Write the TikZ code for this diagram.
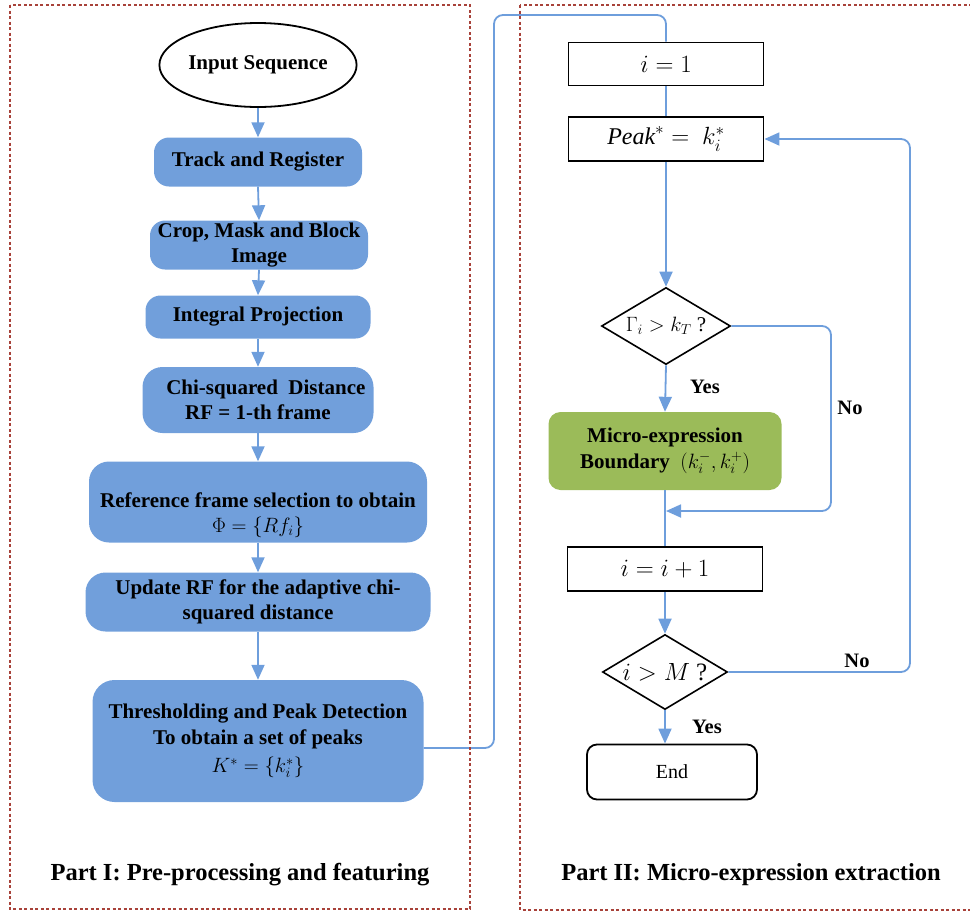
\documentclass[tikz,border=0pt]{standalone}
\usepackage{fontspec}
\setmainfont{Liberation Serif}
\usetikzlibrary{shapes.geometric,arrows.meta}
\definecolor{boxblue}{HTML}{719FDB}
\definecolor{lineblue}{HTML}{6E9EDC}
\definecolor{boxgreen}{HTML}{9BBB59}
\definecolor{dashred}{HTML}{A8423A}
\tikzset{
  bluebox/.style={rectangle, rounded corners=15pt, fill=boxblue, draw=none, inner sep=0pt,
    align=center, font=\fontsize{21}{25.5}\selectfont\bfseries},
  greenbox/.style={rectangle, rounded corners=12pt, fill=boxgreen, draw=none, inner sep=0pt,
    align=center, font=\fontsize{21}{25.5}\selectfont\bfseries},
  mathbox/.style={rectangle, draw=black, line width=1.9pt, fill=white, inner sep=0pt,
    minimum width=195pt, minimum height=43pt, font=\fontsize{26}{30}\selectfont},
  decision/.style={diamond, aspect=1.67, draw=black, line width=1.6pt, fill=white, inner sep=0pt,
    font=\fontsize{21}{25}\selectfont},
  flow/.style={draw=lineblue, line width=1.8pt},
  flowarrow/.style={flow, -{Triangle[width=13pt,length=15pt]}},
  lbl/.style={font=\fontsize{20.5}{24}\selectfont\bfseries, inner sep=0pt},
  partlbl/.style={font=\fontsize{24.5}{28}\selectfont\bfseries, inner sep=0pt},
  partframe/.style={draw=dashred, line width=1.6pt, dash pattern=on 3pt off 2.5pt},
}
\begin{document}
\begin{tikzpicture}[x=1pt,y=-1pt]
\useasboundingbox (0,0) rectangle (970,911);
% Part I nodes
\node[ellipse, draw=black, line width=1.8pt, inner sep=0pt, minimum width=184pt, minimum height=84pt,
  font=\fontsize{21}{25}\selectfont\bfseries] (inp) at (258,65) {Input Sequence};
\node[bluebox, minimum width=208pt, minimum height=49pt] (track) at (258,162) {Track and Register};
\node[bluebox, minimum width=218pt, minimum height=49pt] (crop) at (259,245) {Crop, Mask and Block\\Image};
\node[bluebox, minimum width=225pt, minimum height=43pt] (integ) at (258,317) {Integral Projection};
\node[bluebox, rounded corners=20pt, minimum width=231pt, minimum height=66pt] (chi) at (258,400) {\ \ \ Chi-squared\ \ Distance\\RF = 1-th frame};
\node[bluebox, rounded corners=20pt, minimum width=338pt, minimum height=81pt] (ref) at (258,502) {};
\node[lbl, font=\fontsize{21}{25.5}\selectfont\bfseries, align=center] (reftext) at (258,515) {Reference frame selection to obtain\\$\Phi = \{Rf_i\}$};
\node[bluebox, rounded corners=20pt, minimum width=345pt, minimum height=59pt] (upd) at (258,602) {Update RF for the adaptive chi-\\squared distance};
\node[bluebox, rounded corners=22pt, minimum width=331pt, minimum height=122pt] (thr) at (258,741) {Thresholding and Peak Detection\\To obtain a set of peaks\\[3pt]\mdseries$K^* = \{k_i^*\}$};
\node[partlbl] (p1) at (240,875) {Part I: Pre-processing and featuring};
% Part II nodes
\node[mathbox] (i1) at (666,64) {$i = 1$};
\node[mathbox, minimum height=44pt, font=\fontsize{24}{28}\selectfont] (peak) at (666,139) {$\mathit{Peak}^{*} =\ k_i^{*}$};
\node[decision, minimum width=129pt, minimum height=77pt] (d1) at (666,326) {$\Gamma_i > k_T$ ?};
\node[greenbox, minimum width=233pt, minimum height=78pt] (mb) at (665,451) {Micro-expression\\Boundary\ \ \mdseries$(k_i^-, k_i^+)$};
\node[mathbox, minimum height=44pt] (inc) at (665,569) {$i = i + 1$};
\node[decision, minimum width=125pt, minimum height=75pt, font=\fontsize{25}{29}\selectfont] (d2) at (665,672) {$i > M$ ?};
\node[rectangle, rounded corners=10pt, draw=black, line width=1.8pt, inner sep=0pt,
  minimum width=170pt, minimum height=55pt, font=\fontsize{20}{24}\selectfont] (endn) at (672,772) {End};
\node[partlbl] (p2) at (751,875) {Part II: Micro-expression extraction};
% labels
\node[lbl] (yes1) at (705,387) {Yes};
\node[lbl] (no1) at (850,408) {No};
\node[lbl] (no2) at (857,661) {No};
\node[lbl] (yes2) at (707,727) {Yes};
% connectors Part I
\draw[flowarrow] (inp.south) -- (track.north);
\draw[flowarrow] (track.south) -- (crop.north);
\draw[flowarrow] (crop.south) -- (integ.north);
\draw[flowarrow] (integ.south) -- (chi.north);
\draw[flowarrow] (chi.south) -- (ref.north);
\draw[flowarrow] (ref.south) -- (upd.north);
\draw[flowarrow] (upd.south) -- (thr.north);
% link between parts
\draw[flow, rounded corners=9pt] ([yshift=-7pt]thr.east) -- (494,748) -- (494,15) -- (666,15) -- (i1.north);
% connectors Part II
\draw[flow] (i1.south) -- (peak.north);
\draw[flowarrow] (peak.south) -- (d1.north);
\draw[flowarrow] (d1.south) -- (mb.north);
\coordinate (merge) at (666,511);
\draw[flowarrow, rounded corners=9pt] (d1.east) -- (831,326) -- (831,511) -- (merge);
\draw[flow] (mb.south) -- (inc.north);
\draw[flowarrow] (inc.south) -- (d2.north);
\draw[flowarrow, rounded corners=9pt] (d2.east) -- (910,672) -- (910,139) -- (peak.east);
\draw[flowarrow] (d2.south) -- (d2.south |- endn.north);
% frames
\draw[partframe] (10,5) rectangle (470,909);
\draw[partframe] (520,5) rectangle (985,910);
\end{tikzpicture}
\end{document}
